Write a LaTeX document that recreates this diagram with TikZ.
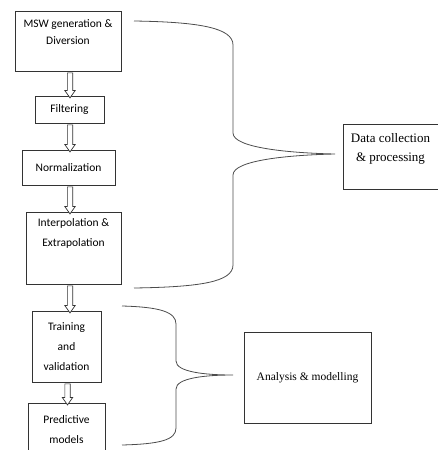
\documentclass[tikz,border=0pt]{standalone}
\usepackage{fontspec}
\setmainfont{Carlito}
\newfontfamily\timesfont{Liberation Serif}
\usetikzlibrary{shapes.arrows}

\begin{document}
\begin{tikzpicture}[x=1pt,y=-1pt,
    box/.style={draw=black!80, line width=0.9pt, align=center, inner sep=2pt, font=\fontsize{11.5}{20}\selectfont},
    sidebox/.style={box, font=\timesfont\fontsize{11.5}{19}\selectfont},
    flow/.style={single arrow, draw=black!80, line width=0.7pt, fill=white, inner sep=2.3pt,
      single arrow head extend=2.5pt, single arrow tip angle=70, shape border rotate=270,
      minimum height=#1, sloped=false},
    brace/.style={draw=black!70, line width=0.8pt}]
  \useasboundingbox (0,0) rectangle (437,450);

  % left column
  \node[box, minimum width=106pt, minimum height=60pt, text depth=18pt] (msw) at (68,41) {MSW generation \&\\[-3pt]Diversion};
  \node[box, minimum width=69pt, minimum height=27pt] (filter) at (69.5,109.5) {Filtering};
  \node[box, minimum width=93pt, minimum height=35pt] (norm) at (68.5,167.5) {Normalization};
  \node[box, minimum width=95pt, minimum height=72pt, text depth=30pt] (interp) at (73.5,248) {Interpolation \&\\Extrapolation};
  \node[box, minimum width=69pt, minimum height=71pt] (train) at (66.5,346.5) {Training\\and\\validation};
  \node[box, minimum width=77pt, minimum height=53pt] (pred) at (66.5,429.5) {Predictive\\models};

  % right column
  \node[sidebox, minimum width=95pt, minimum height=65pt, text depth=18pt, font=\timesfont\fontsize{13}{19}\selectfont] (data) at (390.5,156.5) {Data collection\\\& processing};
  \node[sidebox, minimum width=127pt, minimum height=91pt] (model) at (307.5,377.5) {Analysis \& modelling};

  % arrows
  \coordinate (upper) at (70,0);
  \coordinate (lower) at (67.5,0);
  \path (msw.south -| upper) -- node[flow=25pt] (a1) {} (filter.north -| upper);
  \path (filter.south -| upper) -- node[flow=27pt] (a2) {} (norm.north -| upper);
  \path (norm.south -| upper) -- node[flow=27pt] (a3) {} (interp.north -| upper);
  \path (interp.south -| upper) -- node[flow=27pt] (a4) {} (train.north -| upper);
  \path (train.south -| lower) -- node[flow=21pt] (a5) {} (pred.north -| lower);

  % braces
  \coordinate (b1top) at (134,21);
  \coordinate (b1bot) at (134,288);
  \coordinate (b1tip) at (335,154);
  \coordinate (b2top) at (122,306);
  \coordinate (b2bot) at (122,445);
  \coordinate (b2tip) at (233,375);
  \draw[brace] (b1top) .. controls (200,22) and (233,28) .. (233,45) -- (233,133)
    .. controls (233,148) and (290,153) .. (b1tip)
    .. controls (290,155) and (233,160) .. (233,175) -- (233,265)
    .. controls (233,282) and (200,287) .. (b1bot);
  \draw[brace] (b2top) .. controls (160,307) and (176,312) .. (176,324) -- (176,361)
    .. controls (176,372) and (205,375) .. (b2tip)
    .. controls (205,375) and (176,378) .. (176,389) -- (176,428)
    .. controls (176,440) and (160,444) .. (b2bot);
\end{tikzpicture}
\end{document}
